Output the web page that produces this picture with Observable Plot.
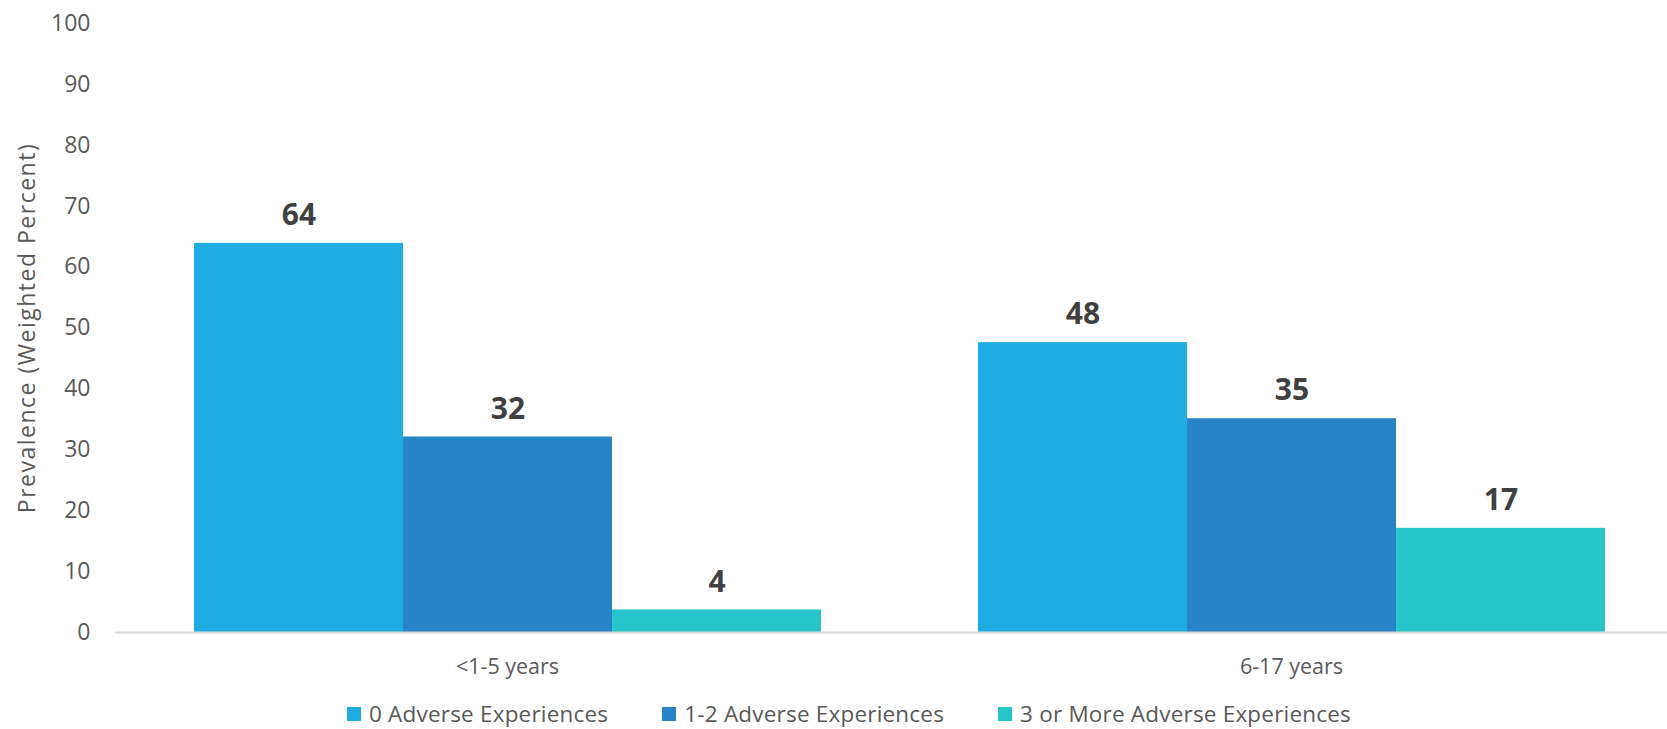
<!DOCTYPE html>
<html>
<head>
<meta charset="utf-8">
<script src="https://cdn.jsdelivr.net/npm/d3@7"></script>
<script src="https://cdn.jsdelivr.net/npm/@observablehq/plot@0.6"></script>
<style>
  html, body { margin: 0; padding: 0; background: #fff; overflow: hidden; }
  body { width: 1667px; font-family: "Open Sans", sans-serif; }
  #chart svg { display: block; }
  #chart svg [aria-label="y-axis label"] { letter-spacing: 1.5px; }
  .lg-swatches.lg-swatches-wrap {
    display: flex; justify-content: center; align-items: center;
    font-family: "Open Sans", sans-serif; font-size: 22.5px; color: #595959;
    letter-spacing: 0.2px; line-height: 26px;
    min-height: 0; margin: 0; padding-left: 31px;
  }
  .lg-swatches-wrap .lg-swatch { margin-right: 54px !important; }
  .lg-swatches-wrap .lg-swatch:last-child { margin-right: 0 !important; }
  .lg-swatch > svg { margin-right: 8px !important; }
</style>
</head>
<body>
<div id="chart"></div>
<script>
// Data
const ageGroups = ["<1-5 years", "6-17 years"];
const seriesNames = ["0 Adverse Experiences", "1-2 Adverse Experiences", "3 or More Adverse Experiences"];
const seriesColors = ["#1FACE3", "#2683C6", "#27C4CC"];
const values0 = [63.9, 47.6];   // 0 Adverse Experiences
const values12 = [32.1, 35.1];  // 1-2 Adverse Experiences
const values3 = [3.7, 17.1];    // 3 or More Adverse Experiences
const yTicks = [0, 10, 20, 30, 40, 50, 60, 70, 80, 90, 100];

const seriesValues = [values0, values12, values3];
const rows = [];
ageGroups.forEach((g, i) => {
  seriesNames.forEach((s, j) => {
    rows.push({group: g, series: s, value: seriesValues[j][i]});
  });
});

const chart = Plot.plot({
  width: 1667,
  height: 690,
  marginLeft: 115,
  marginRight: -16,
  marginTop: 23,
  marginBottom: 58,
  style: {fontFamily: "Open Sans, sans-serif", color: "#595959", background: "#fff", overflow: "hidden"},
  fx: {domain: ageGroups, padding: 0, label: null},
  x: {domain: seriesNames, paddingInner: 0, paddingOuter: 0.375, axis: null},
  y: {domain: [0, 100], label: null},
  color: {domain: seriesNames, range: seriesColors},
  marks: [
    Plot.axisY({ticks: yTicks, tickSize: 0, tickPadding: 25, fontSize: 23, label: "Prevalence (Weighted Percent)", labelAnchor: "center", labelArrow: "none", labelOffset: 97}),
    Plot.axisFx({anchor: "bottom", tickSize: 0, tickPadding: 26, fontSize: 21.5, label: null}),
    Plot.barY(rows, {fx: "group", x: "series", y: "value", fill: "series", inset: 0}),
    Plot.ruleY([0], {stroke: "#d9d9d9", strokeWidth: 2}),
    Plot.text(rows, {fx: "group", x: "series", y: "value", text: d => d3.format(".0f")(d.value), dy: -28, fontSize: 30, fontWeight: "bold", fill: "#404040"})
  ]
});
const root = document.getElementById("chart");
root.append(chart);
const legend = chart.legend("color", {className: "lg", swatchSize: 14});
legend.style.marginTop = "11px";
root.append(legend);
</script>
</body>
</html>
